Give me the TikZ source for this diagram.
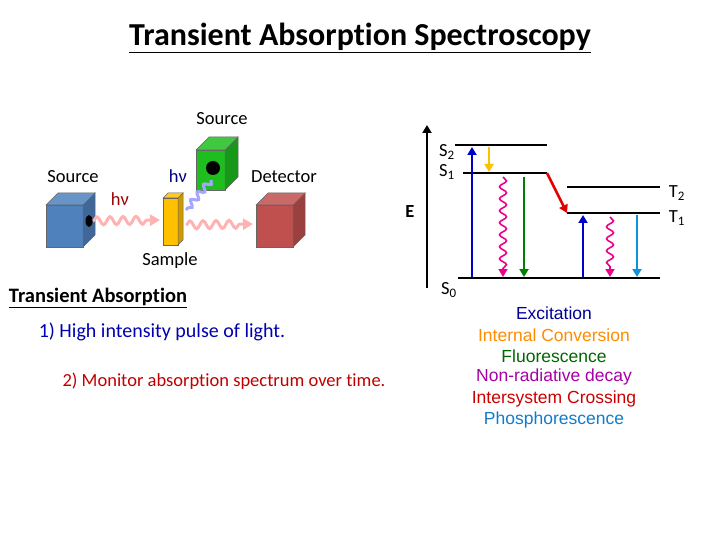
\documentclass[tikz,border=0pt]{standalone}
\usepackage{fontspec}
\setmainfont[Ligatures=NoCommon]{Carlito}
\newfontfamily\arial{Liberation Sans}
\usetikzlibrary{decorations.pathmorphing,arrows.meta}
\begin{document}
\begin{tikzpicture}[x=1pt,y=-1pt,
  lvl/.style={line width=2.5pt},
  arr/.style={line width=2.5pt,-{Triangle[length=8pt,width=9pt]}},
  wav/.style={line width=1.6pt,decorate,decoration={snake,amplitude=3.5pt,segment length=12pt,post length=7pt},-{Triangle[length=8pt,width=9pt]}},
  pwav/.style={line width=3pt,decorate,decoration={snake,amplitude=4pt,segment length=13pt,post length=9pt},-{Triangle[length=10pt,width=11pt]},color=red!30},
  lab/.style={font=\fontsize{18.5}{21}\selectfont},
  leg/.style={font=\arial\fontsize{17.5}{20}\selectfont}]
\useasboundingbox (0,0) rectangle (720,540);
\node (title) at (360,38) {\fontsize{32}{36}\selectfont\bfseries\underline{Transient Absorption Spectroscopy}};
\newcommand\cube[6]{%
  \fill[#6,draw=black!60,line width=.5pt] (#1,#2) rectangle (#3,#4);
  \fill[#6!80!black,draw=black!60,line width=.5pt] (#3,#2) -- ++(#5,-#5) -- ++(0,#4-#2) -- (#3,#4) -- cycle;
  \fill[#6!85!white,draw=black!60,line width=.5pt] (#1,#2) -- ++(#5,-#5) -- (#3+#5,#2-#5) -- (#3,#2) -- cycle;}
\definecolor{cblue}{RGB}{79,129,189}
\definecolor{cgreen}{RGB}{30,190,30}
\definecolor{cred}{RGB}{192,80,77}
\definecolor{cyel}{RGB}{255,192,0}
\cube{46}{205}{83}{247}{12}{cblue}
\cube{196}{150}{225}{190}{13}{cgreen}
\cube{256}{205}{293}{247}{12}{cred}
\cube{163}{198}{178}{245}{5}{cyel}
\fill (89,221) ellipse (3.5pt and 6pt);
\fill (213,168) circle (7pt);
\coordinate (w1s) at (93,221); \coordinate (w1e) at (160,220);
\coordinate (w2s) at (186,225); \coordinate (w2e) at (253,224);
\coordinate (w3s) at (211,180); \coordinate (w3e) at (186,210);
\draw[pwav] (w1s) -- (w1e);
\draw[pwav] (w2s) -- (w2e);
\draw[line width=3pt,draw=blue!35!white,decorate,decoration={snake,amplitude=3pt,segment length=10pt}] (w3s) -- (w3e);
\node[lab] (s1) at (73,177) {Source};
\node[lab] (s2) at (222,119) {Source};
\node[lab] (det) at (284,177) {Detector};
\node[lab] (samp) at (170,261) {Sample};
\node[lab,text=red!60!black] (hv1) at (120,199) {hν};
\node[lab,text=blue!50!black] (hv2) at (178,176) {hν};
\node[font=\fontsize{20.5}{23}\selectfont] (ta) at (98,298) {\bfseries\underline{Transient Absorption}};
\node[font=\fontsize{20}{23}\selectfont,text=blue!70!black] (l1) at (162,332) {1) High intensity pulse of light.};
\node[lab,text=red!75!black] (l2) at (224,381) {2) Monitor absorption spectrum over time.};
\coordinate (eb) at (427,288); \coordinate (et) at (427,125);
\draw[arr] (eb) -- (et);
\node[lab] (E) at (410,212) {\bfseries E};
\coordinate (S2a) at (455,145); \coordinate (S2b) at (547,145);
\coordinate (S1a) at (463,173); \coordinate (S1b) at (547,173);
\coordinate (T2a) at (567,187); \coordinate (T2b) at (660,187);
\coordinate (T1a) at (567,213); \coordinate (T1b) at (660,213);
\coordinate (S0a) at (458,278); \coordinate (S0b) at (660,278);
\draw[lvl] (S2a)--(S2b); \draw[lvl] (S1a)--(S1b); \draw[lvl] (T2a)--(T2b);
\draw[lvl] (T1a)--(T1b); \draw[lvl] (S0a)--(S0b);
\node[lab] (lS2) at (447,152) {S\textsubscript{2}};
\node[lab] (lS1) at (447,172) {S\textsubscript{1}};
\node[lab] (lT2) at (677,193) {T\textsubscript{2}};
\node[lab] (lT1) at (677,218) {T\textsubscript{1}};
\node[lab] (lS0) at (449,290) {S\textsubscript{0}};
\draw[arr,blue!80!black] (472,277) -- (472,147);
\draw[arr,cyel] (489,147) -- (489,172);
\draw[wav,magenta] (503,177) -- (503,277);
\draw[arr,green!50!black] (524,177) -- (524,277);
\draw[arr,red!90!black] (S1b) -- (T1a);
\draw[arr,blue!80!black] (583,277) -- (583,215);
\draw[wav,magenta] (610,217) -- (610,277);
\draw[arr,cyan!80!blue] (637,215) -- (637,277);
\node[leg,text=blue!60!black] (g1) at (554,313) {Excitation};
\node[leg,text=orange!90!yellow] (g2) at (554,335) {Internal Conversion};
\node[leg,text=green!40!black] (g3) at (554,356) {Fluorescence};
\node[leg,text=violet!70!magenta] (g4) at (554,377) {Non-radiative decay};
\node[leg,text=red!80!black] (g5) at (554,399) {Intersystem Crossing};
\node[leg,text=cyan!60!blue] (g6) at (554,420) {Phosphorescence};
\end{tikzpicture}
\end{document}
